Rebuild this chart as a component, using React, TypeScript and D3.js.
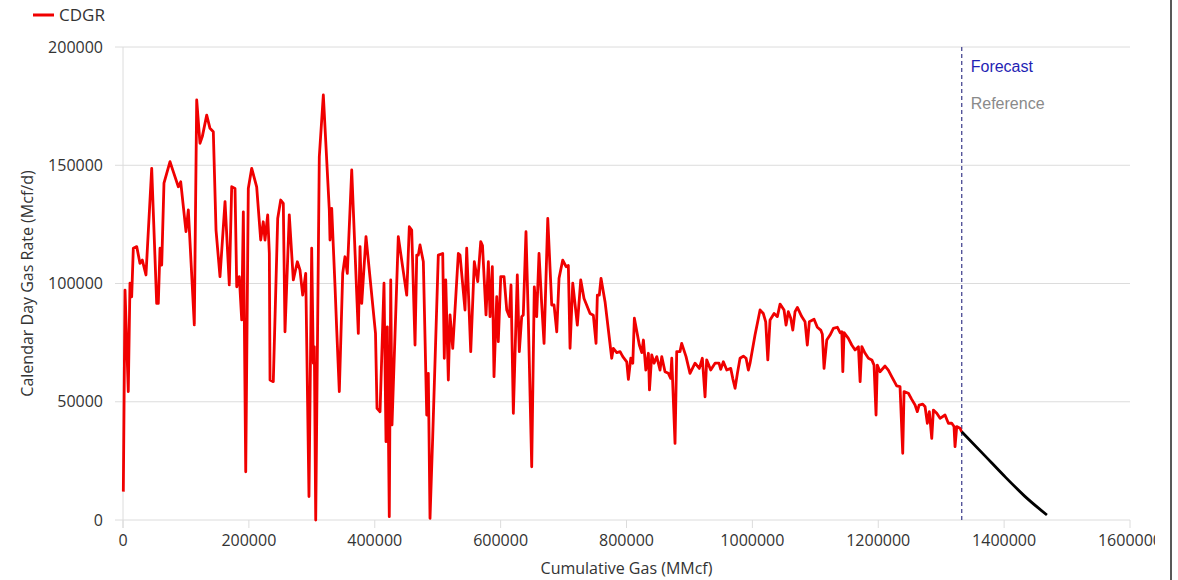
import React from "react";
import * as d3 from "d3";

// Historical CDGR series (Cumulative Gas, MMcf) vs (Calendar Day Gas Rate, Mcf/d)
const cumGas: number[] = [
  500, 3200, 8400, 11100, 13800, 16400, 21800, 27000, 30700, 36500,
  45600, 53500, 56100, 58800, 61500, 65100, 74700, 79900, 87900, 91700,
  100100, 103800, 113300, 117100, 122300, 126000, 133000, 138200, 143500, 147800,
  154100, 162100, 168900, 172700, 178000, 180700, 184800, 188600, 191200, 195000,
  199100, 204500, 212400, 218800, 222900, 225600, 229900, 232500, 233600, 238800,
  245800, 250600, 254700, 257400, 264200, 270600, 277000, 281200, 285500, 290300,
  295500, 299800, 302400, 304000, 306200, 311900, 318300, 327800, 328900, 331600,
  336900, 339600, 343700, 349100, 352700, 356400, 363400, 373900, 376600, 379300,
  386100, 401200, 403600, 408400, 414700, 417900, 420000, 423100, 425400, 427400,
  437400, 450800, 454900, 458700, 464000, 466700, 469200, 471900, 477200, 482600,
  485100, 487800, 492100, 501000, 508000, 510500, 512800, 516900, 519600, 523900,
  532800, 535500, 543400, 546100, 552500, 558200, 563600, 568400, 571200, 576800,
  580500, 583200, 586800, 589500, 593800, 596300, 600200, 605400, 609700, 613800,
  616500, 620200, 626500, 629700, 633500, 636000, 640300, 643900, 649400, 653500,
  657300, 661000, 665200, 669000, 674900, 681200, 684900, 689200, 692800, 698700,
  704000, 707600, 710300, 714600, 721900, 727300, 732500, 742100, 747300, 751600,
  753700, 756800, 759500, 765900, 776500, 779100, 784500, 789800, 794100, 800400,
  803000, 806800, 810000, 812500, 820400, 824300, 826900, 830700, 834800, 836500,
  840100, 843800, 848100, 853300, 856000, 861200, 866500, 870200, 871900, 877100,
  879800, 885000, 887700, 894600, 900900, 908900, 915700, 920500, 924800, 927400,
  933800, 940700, 947000, 949700, 953900, 959300, 965600, 968800, 972500, 976200,
  980400, 985700, 990000, 993600, 996300, 1004200, 1012200, 1017400, 1021200, 1024500,
  1028100, 1034500, 1039700, 1044000, 1050300, 1053500, 1057100, 1061000, 1064200, 1067800,
  1071500, 1078400, 1083700, 1087300, 1090500, 1098000, 1103200, 1108600, 1111200, 1113900,
  1118200, 1123400, 1128700, 1135100, 1139400, 1142100, 1143700, 1145700, 1152500, 1157900,
  1163200, 1168500, 1171200, 1173900, 1179100, 1184400, 1189800, 1193300, 1196500, 1198500,
  1202800, 1210800, 1216000, 1221400, 1229300, 1234600, 1238900, 1241000, 1247900, 1253200,
  1258500, 1262100, 1264900, 1270700, 1274400, 1278000, 1281200, 1285000, 1287600, 1293000,
  1298200, 1306100, 1311400, 1316800, 1320400, 1322000, 1324700, 1329900, 1332600,
];

const gasRate: number[] = [
  12000, 97200, 54300, 100200, 94400, 114900, 115600, 108500, 109900, 103600,
  148700, 91600, 91600, 114900, 107800, 142400, 151500, 147300, 140900, 143000,
  121900, 131100, 82500, 177600, 159300, 162100, 171200, 165600, 164200, 122600,
  102900, 134600, 99400, 140900, 140200, 98600, 102900, 84600, 130300, 20400,
  140200, 148700, 140900, 118400, 126100, 118400, 129000, 112800, 59200, 58500,
  127500, 135300, 133900, 79600, 129000, 101500, 109200, 105700, 95100, 104300,
  9900, 114900, 66300, 73300, 0, 153600, 179700, 131100, 118400, 131800,
  98600, 80300, 54300, 104300, 111300, 104300, 148000, 78900, 115600, 91600,
  119800, 78900, 47200, 45800, 100100, 33100, 81700, 1400, 101500, 40200,
  119800, 95100, 124000, 122600, 74000, 112000, 112000, 116300, 109200, 44400,
  62000, 700, 35200, 112000, 112700, 68400, 101500, 59200, 86700, 72600,
  112700, 112000, 88800, 114900, 71200, 109200, 100800, 117700, 116000, 86700,
  109200, 86000, 107100, 60600, 94400, 75400, 102900, 102900, 88800, 86000,
  99400, 45100, 103600, 71200, 86000, 86700, 121900, 86000, 22500, 98600,
  86000, 112700, 91600, 74700, 127500, 90900, 90900, 79600, 102200, 109900,
  107100, 107600, 72600, 100100, 82400, 101500, 93700, 87300, 86600, 74700,
  95100, 95100, 102200, 92300, 68400, 72600, 70800, 71200, 69100, 66900,
  59500, 68400, 66300, 85300, 74000, 70800, 76100, 63400, 70500, 55000,
  69800, 66300, 69100, 63400, 69100, 62700, 62000, 59900, 68400, 32400,
  71200, 71200, 74700, 69100, 62000, 66300, 64100, 68400, 52100, 67700,
  63400, 66300, 66300, 63700, 66900, 63400, 64100, 59900, 55700, 62000,
  68400, 69300, 68400, 63400, 66300, 78200, 88800, 87300, 83800, 67700,
  84600, 87300, 86000, 91300, 88800, 82400, 88100, 85300, 80300, 88100,
  89900, 86000, 83800, 74000, 83800, 84900, 81500, 80300, 78500, 64100,
  76100, 78200, 81000, 81500, 79200, 79600, 62700, 79200, 76800, 74000,
  71900, 73300, 58500, 73300, 70500, 68400, 67700, 65500, 44400, 65500,
  62700, 65100, 63400, 60600, 56700, 56400, 28200, 54300, 53600, 51000,
  48600, 45800, 48600, 49000, 47900, 40900, 45800, 34500, 46500, 45100,
  43000, 44400, 40900, 40900, 39500, 31000, 39500, 38800, 37300,
];

// Forecast segment
const forecastCum: number[] = [1332600, 1370000, 1398800, 1433000, 1468000];
const forecastRate: number[] = [37300, 27000, 19000, 10000, 2100];

const forecastStart = 1332600;
const xTicks: number[] = [0, 200000, 400000, 600000, 800000, 1000000, 1200000, 1400000, 1600000];
const yTicks: number[] = [0, 50000, 100000, 150000, 200000];

const W = 1178;
const H = 580;
const left = 123;
const right = 1130;
const top = 47;
const bottom = 520;

export default function App() {
  const x = d3.scaleLinear().domain([0, 1600000]).range([left, right]);
  const y = d3.scaleLinear().domain([0, 200000]).range([bottom, top]);

  const hist = cumGas.map((c, i) => [c, gasRate[i]] as [number, number]);
  const fc = forecastCum.map((c, i) => [c, forecastRate[i]] as [number, number]);
  const line = d3
    .line<[number, number]>()
    .x((d) => x(d[0]))
    .y((d) => y(d[1]));
  const smooth = d3
    .line<[number, number]>()
    .curve(d3.curveMonotoneX)
    .x((d) => x(d[0]))
    .y((d) => y(d[1]));

  const tickFont = "'Open Sans', 'Noto Sans', sans-serif";

  return (
    <div style={{ position: "absolute", left: 0, top: 0, width: W, height: H, background: "#fff" }}>
      <svg width={W} height={H} style={{ display: "block" }}>
        <rect x={0} y={0} width={W} height={H} fill="#fff" />
        <svg x={0} y={0} width={1155} height={H} overflow="hidden">
          {/* gridlines */}
          {yTicks.map((t) => (
            <g key={"y" + t}>
              <line x1={left - 8} x2={right} y1={y(t)} y2={y(t)} stroke="#dcdcdc" strokeWidth={1} />
              <text
                x={103}
                y={y(t)}
                dy="0.35em"
                textAnchor="end"
                fontFamily={tickFont}
                fontSize={16}
                fill="#333"
              >
                {t}
              </text>
            </g>
          ))}
          <line x1={left} x2={left} y1={top} y2={bottom + 8} stroke="#dcdcdc" strokeWidth={1} />
          {xTicks.map((t) => (
            <g key={"x" + t}>
              <line x1={x(t)} x2={x(t)} y1={bottom} y2={bottom + 8} stroke="#dcdcdc" strokeWidth={1} />
              <text
                x={x(t)}
                y={546}
                textAnchor="middle"
                fontFamily={tickFont}
                fontSize={16}
                fill="#333"
              >
                {t}
              </text>
            </g>
          ))}

          {/* forecast divider */}
          <line
            x1={x(forecastStart)}
            x2={x(forecastStart)}
            y1={top}
            y2={bottom}
            stroke="#55559a"
            strokeWidth={1.4}
            strokeDasharray="4,3"
          />
          <text x={x(forecastStart) + 9} y={72} fontFamily="'Liberation Sans', Arial, sans-serif" fontSize={16} fill="#1f1fb4">
            Forecast
          </text>
          <text x={x(forecastStart) + 9} y={109} fontFamily="'Liberation Sans', Arial, sans-serif" fontSize={16} fill="#8a8a8a">
            Reference
          </text>

          {/* series */}
          <path d={line(hist) || ""} fill="none" stroke="#f00000" strokeWidth={2.8} strokeLinejoin="round" />
          <path d={smooth(fc) || ""} fill="none" stroke="#000" strokeWidth={2.8} strokeLinejoin="round" />

          {/* axis titles */}
          <text
            transform={`translate(33, ${(top + bottom) / 2}) rotate(-90)`}
            textAnchor="middle"
            fontFamily={tickFont}
            fontSize={16}
            fill="#333"
          >
            Calendar Day Gas Rate (Mcf/d)
          </text>
          <text x={(left + right) / 2} y={574} textAnchor="middle" fontFamily={tickFont} fontSize={16} fill="#333">
            Cumulative Gas (MMcf)
          </text>

          {/* legend */}
          <line x1={33} x2={54} y1={15} y2={15} stroke="#f00000" strokeWidth={3} />
          <text x={59} y={21} fontFamily={tickFont} fontSize={17} fill="#333">
            CDGR
          </text>
        </svg>
        <line x1={1171} x2={1171} y1={0} y2={H} stroke="#222" strokeWidth={1.5} />
      </svg>
    </div>
  );
}
